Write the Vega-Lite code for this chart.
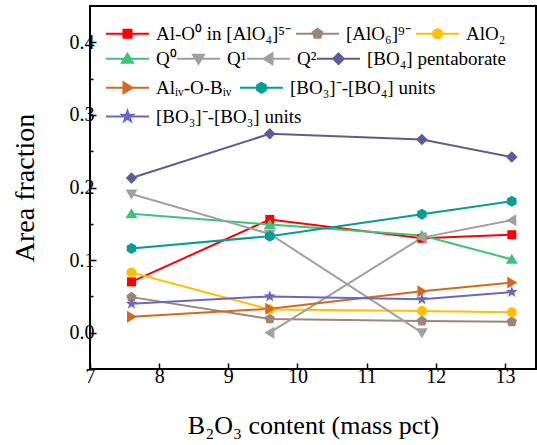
{
  "$schema": "https://vega.github.io/schema/vega-lite/v6.json",
  "width": 446,
  "height": 363,
  "autosize": "none",
  "padding": {"left": 90, "top": 6, "right": 1, "bottom": 76},
  "background": "white",
  "config": {
    "font": "Liberation Serif",
    "style": {"guide-label": {"font": "Liberation Serif"}, "guide-title": {"font": "Liberation Serif"}},
    "view": {"stroke": "black", "strokeWidth": 2},
    "legend": {"labelFont": "Liberation Serif"},
    "axis": {
      "grid": false,
      "domain": false,
      "tickColor": "black",
      "tickWidth": 1.5,
      "labelColor": "black",
      "labelFont": "Liberation Serif",
      "labelFontSize": 20,
      "titleFont": "Liberation Serif",
      "titleFontWeight": "normal",
      "titleColor": "black"
    }
  },
  "data": {
    "values": [
      {"b2o3": 7.6, "series": "Al-O⁰ in [AlO₄]⁵⁻", "frac": 0.070},
      {"b2o3": 9.6, "series": "Al-O⁰ in [AlO₄]⁵⁻", "frac": 0.156},
      {"b2o3": 11.8, "series": "Al-O⁰ in [AlO₄]⁵⁻", "frac": 0.130},
      {"b2o3": 13.1, "series": "Al-O⁰ in [AlO₄]⁵⁻", "frac": 0.135},
      {"b2o3": 7.6, "series": "[AlO₆]⁹⁻", "frac": 0.049},
      {"b2o3": 9.6, "series": "[AlO₆]⁹⁻", "frac": 0.019},
      {"b2o3": 11.8, "series": "[AlO₆]⁹⁻", "frac": 0.016},
      {"b2o3": 13.1, "series": "[AlO₆]⁹⁻", "frac": 0.015},
      {"b2o3": 7.6, "series": "AlO₂", "frac": 0.083},
      {"b2o3": 9.6, "series": "AlO₂", "frac": 0.032},
      {"b2o3": 11.8, "series": "AlO₂", "frac": 0.030},
      {"b2o3": 13.1, "series": "AlO₂", "frac": 0.028},
      {"b2o3": 7.6, "series": "Q⁰", "frac": 0.164},
      {"b2o3": 9.6, "series": "Q⁰", "frac": 0.149},
      {"b2o3": 11.8, "series": "Q⁰", "frac": 0.134},
      {"b2o3": 13.1, "series": "Q⁰", "frac": 0.101},
      {"b2o3": 7.6, "series": "Q¹", "frac": 0.191},
      {"b2o3": 9.6, "series": "Q¹", "frac": 0.136},
      {"b2o3": 11.8, "series": "Q¹", "frac": 0.0},
      {"b2o3": 9.6, "series": "Q²", "frac": 0.0},
      {"b2o3": 11.8, "series": "Q²", "frac": 0.131},
      {"b2o3": 13.1, "series": "Q²", "frac": 0.155},
      {"b2o3": 7.6, "series": "[BO₄] pentaborate", "frac": 0.213},
      {"b2o3": 9.6, "series": "[BO₄] pentaborate", "frac": 0.274},
      {"b2o3": 11.8, "series": "[BO₄] pentaborate", "frac": 0.266},
      {"b2o3": 13.1, "series": "[BO₄] pentaborate", "frac": 0.242},
      {"b2o3": 7.6, "series": "Alᵢᵥ-O-Bᵢᵥ", "frac": 0.022},
      {"b2o3": 9.6, "series": "Alᵢᵥ-O-Bᵢᵥ", "frac": 0.033},
      {"b2o3": 11.8, "series": "Alᵢᵥ-O-Bᵢᵥ", "frac": 0.057},
      {"b2o3": 13.1, "series": "Alᵢᵥ-O-Bᵢᵥ", "frac": 0.069},
      {"b2o3": 7.6, "series": "[BO₃]⁻-[BO₄] units", "frac": 0.116},
      {"b2o3": 9.6, "series": "[BO₃]⁻-[BO₄] units", "frac": 0.133},
      {"b2o3": 11.8, "series": "[BO₃]⁻-[BO₄] units", "frac": 0.163},
      {"b2o3": 13.1, "series": "[BO₃]⁻-[BO₄] units", "frac": 0.181},
      {"b2o3": 7.6, "series": "[BO₃]⁻-[BO₃] units", "frac": 0.040},
      {"b2o3": 9.6, "series": "[BO₃]⁻-[BO₃] units", "frac": 0.050},
      {"b2o3": 11.8, "series": "[BO₃]⁻-[BO₃] units", "frac": 0.046},
      {"b2o3": 13.1, "series": "[BO₃]⁻-[BO₃] units", "frac": 0.056}
    ]
  },
  "encoding": {
    "x": {
      "field": "b2o3",
      "type": "quantitative",
      "scale": {"domain": [7, 13.45], "nice": false, "zero": false},
      "axis": {
        "title": "B₂O₃ content (mass pct)",
        "titleFont": "Liberation Serif",
        "titleFontSize": 26,
        "titlePadding": 26,
        "format": "d",
        "labelFont": "Liberation Serif",
        "values": [7, 7.5, 8, 8.5, 9, 9.5, 10, 10.5, 11, 11.5, 12, 12.5, 13],
        "labelExpr": "datum.value % 1 === 0 ? datum.label : ''",
        "tickSize": {"condition": {"test": "datum.value % 1 === 0", "value": -6}, "value": -3},
        "labelPadding": 3,
        "labelFlush": false,
        "labelOverlap": false
      }
    },
    "y": {
      "field": "frac",
      "type": "quantitative",
      "scale": {"domain": [-0.05, 0.45], "nice": false, "zero": false},
      "axis": {
        "title": "Area fraction",
        "titleFont": "Liberation Serif",
        "titleFontSize": 28,
        "titlePadding": 30,
        "format": ".1f",
        "labelFont": "Liberation Serif",
        "values": [0, 0.05, 0.1, 0.15, 0.2, 0.25, 0.3, 0.35, 0.4],
        "labelExpr": "abs(datum.value * 10 - round(datum.value * 10)) < 0.001 ? datum.label : ''",
        "tickSize": {"condition": {"test": "abs(datum.value * 10 - round(datum.value * 10)) < 0.001", "value": -6}, "value": -3},
        "labelPadding": 2,
        "labelFlush": false,
        "labelOverlap": false
      }
    }
  },
  "layer": [
    {
      "mark": {"type": "line", "strokeWidth": 2},
      "encoding": {
        "color": {
          "field": "series", "type": "nominal", "legend": null,
          "scale": {
            "domain": ["Al-O⁰ in [AlO₄]⁵⁻", "[AlO₆]⁹⁻", "AlO₂", "Q⁰", "Q¹", "Q²", "[BO₄] pentaborate", "Alᵢᵥ-O-Bᵢᵥ", "[BO₃]⁻-[BO₄] units", "[BO₃]⁻-[BO₃] units"],
            "range": ["#FF0000", "#9E857A", "#FFC000", "#3CC47C", "#A0A0A0", "#A0A0A0", "#5B5B9C", "#D2691E", "#009E96", "#6A66C6"]
          }
        }
      }
    },
    {
      "mark": {"type": "point", "filled": true, "size": 100, "opacity": 1},
      "encoding": {
        "color": {
          "field": "series", "type": "nominal", "legend": null,
          "scale": {
            "domain": ["Al-O⁰ in [AlO₄]⁵⁻", "[AlO₆]⁹⁻", "AlO₂", "Q⁰", "Q¹", "Q²", "[BO₄] pentaborate", "Alᵢᵥ-O-Bᵢᵥ", "[BO₃]⁻-[BO₄] units", "[BO₃]⁻-[BO₃] units"],
            "range": ["#FF0000", "#9E857A", "#FFC000", "#3CC47C", "#A0A0A0", "#A0A0A0", "#5B5B9C", "#D2691E", "#009E96", "#6A66C6"]
          }
        },
        "shape": {
          "field": "series", "type": "nominal", "legend": null,
          "scale": {
            "domain": ["Al-O⁰ in [AlO₄]⁵⁻", "[AlO₆]⁹⁻", "AlO₂", "Q⁰", "Q¹", "Q²", "[BO₄] pentaborate", "Alᵢᵥ-O-Bᵢᵥ", "[BO₃]⁻-[BO₄] units", "[BO₃]⁻-[BO₃] units"],
            "range": [
              "M-0.9,-0.9H0.9V0.9H-0.9Z",
              "M0,-1.1L1.046,-0.34L0.647,0.89L-0.647,0.89L-1.046,-0.34Z",
              "M1,0A1,1,0,1,1,-1,0A1,1,0,1,1,1,0Z",
              "M0,-1.1L1.2,0.9L-1.2,0.9Z",
              "M0,1.1L1.2,-0.9L-1.2,-0.9Z",
              "M-1.1,0L0.9,-1.2L0.9,1.2Z",
              "M0,-1.15L1.15,0L0,1.15L-1.15,0Z",
              "M1.1,0L-0.9,-1.2L-0.9,1.2Z",
              "M0,-1.1L0.953,-0.55L0.953,0.55L0,1.1L-0.953,0.55L-0.953,-0.55Z",
              "M0,-1.25L0.294,-0.405L1.189,-0.386L0.476,0.155L0.735,1.011L0,0.5L-0.735,1.011L-0.476,0.155L-1.189,-0.386L-0.294,-0.405Z"
            ]
          }
        }
      }
    },
    {
      "transform": [{"filter": {"field": "series", "oneOf": ["Al-O⁰ in [AlO₄]⁵⁻", "[AlO₆]⁹⁻", "AlO₂"]}}],
      "mark": {"type": "point", "opacity": 0, "size": 100},
      "encoding": {
        "fill": {"field": "series", "type": "nominal",
          "scale": {"domain": ["Al-O⁰ in [AlO₄]⁵⁻", "[AlO₆]⁹⁻", "AlO₂"], "range": ["#FF0000", "#9E857A", "#FFC000"]},
          "legend": {"title": null, "orient": "none", "legendX": 25, "legendY": 15, "direction": "horizontal", "columns": 3, "symbolSize": 100, "symbolStrokeWidth": 2, "symbolOpacity": 1, "labelFont": "Liberation Serif", "labelFontSize": 19, "labelColor": "black", "labelOffset": 19, "columnPadding": 1, "padding": 3}},
        "stroke": {"field": "series", "type": "nominal",
          "scale": {"domain": ["Al-O⁰ in [AlO₄]⁵⁻", "[AlO₆]⁹⁻", "AlO₂"], "range": ["#FF0000", "#9E857A", "#FFC000"]},
          "legend": {"title": null, "orient": "none", "legendX": 25, "legendY": 15, "direction": "horizontal", "columns": 3, "symbolSize": 100, "symbolStrokeWidth": 2, "symbolOpacity": 1, "labelFont": "Liberation Serif", "labelFontSize": 19, "labelColor": "black", "labelOffset": 19, "columnPadding": 1, "padding": 3}},
        "shape": {"field": "series", "type": "nominal",
          "scale": {"domain": ["Al-O⁰ in [AlO₄]⁵⁻", "[AlO₆]⁹⁻", "AlO₂"], "range": [
            "M-4.3,0H4.3M-0.8,-0.8H0.8V0.8H-0.8Z",
            "M-4.3,0H4.3M0,-1L0.951,-0.309L0.588,0.809L-0.588,0.809L-0.951,-0.309Z",
            "M-4.3,0H4.3M0.9,0A0.9,0.9,0,1,1,-0.9,0A0.9,0.9,0,1,1,0.9,0Z"
          ]},
          "legend": {"title": null, "orient": "none", "legendX": 25, "legendY": 15, "direction": "horizontal", "columns": 3, "symbolSize": 100, "symbolStrokeWidth": 2, "symbolOpacity": 1, "labelFont": "Liberation Serif", "labelFontSize": 19, "labelColor": "black", "labelOffset": 19, "columnPadding": 1, "padding": 3}}
      }
    },
    {
      "transform": [{"filter": {"field": "series", "oneOf": ["Q⁰", "Q¹", "Q²", "[BO₄] pentaborate"]}}],
      "mark": {"type": "point", "opacity": 0, "size": 100},
      "encoding": {
        "fill": {"field": "series", "type": "nominal",
          "scale": {"domain": ["Q⁰", "Q¹", "Q²", "[BO₄] pentaborate"], "range": ["#3CC47C", "#A0A0A0", "#A0A0A0", "#5B5B9C"]},
          "legend": {"title": null, "orient": "none", "legendX": 25, "legendY": 40, "direction": "horizontal", "columns": 4, "symbolSize": 100, "symbolStrokeWidth": 2, "symbolOpacity": 1, "labelFont": "Liberation Serif", "labelFontSize": 19, "labelColor": "black", "labelOffset": 19, "columnPadding": -4, "padding": 3}},
        "stroke": {"field": "series", "type": "nominal",
          "scale": {"domain": ["Q⁰", "Q¹", "Q²", "[BO₄] pentaborate"], "range": ["#3CC47C", "#A0A0A0", "#A0A0A0", "#5B5B9C"]},
          "legend": {"title": null, "orient": "none", "legendX": 25, "legendY": 40, "direction": "horizontal", "columns": 4, "symbolSize": 100, "symbolStrokeWidth": 2, "symbolOpacity": 1, "labelFont": "Liberation Serif", "labelFontSize": 19, "labelColor": "black", "labelOffset": 19, "columnPadding": -4, "padding": 3}},
        "shape": {"field": "series", "type": "nominal",
          "scale": {"domain": ["Q⁰", "Q¹", "Q²", "[BO₄] pentaborate"], "range": [
            "M-4.3,0H4.3M0,-1L1.1,0.8L-1.1,0.8Z",
            "M-4.3,0H4.3M0,1L1.1,-0.8L-1.1,-0.8Z",
            "M-4.3,0H4.3M-1,0L0.8,-1.1L0.8,1.1Z",
            "M-4.3,0H4.3M0,-1.05L1.05,0L0,1.05L-1.05,0Z"
          ]},
          "legend": {"title": null, "orient": "none", "legendX": 25, "legendY": 40, "direction": "horizontal", "columns": 4, "symbolSize": 100, "symbolStrokeWidth": 2, "symbolOpacity": 1, "labelFont": "Liberation Serif", "labelFontSize": 19, "labelColor": "black", "labelOffset": 19, "columnPadding": -4, "padding": 3}}
      }
    },
    {
      "transform": [{"filter": {"field": "series", "oneOf": ["Alᵢᵥ-O-Bᵢᵥ", "[BO₃]⁻-[BO₄] units"]}}],
      "mark": {"type": "point", "opacity": 0, "size": 100},
      "encoding": {
        "fill": {"field": "series", "type": "nominal",
          "scale": {"domain": ["Alᵢᵥ-O-Bᵢᵥ", "[BO₃]⁻-[BO₄] units"], "range": ["#D2691E", "#009E96"]},
          "legend": {"title": null, "orient": "none", "legendX": 25, "legendY": 69, "direction": "horizontal", "columns": 2, "symbolSize": 100, "symbolStrokeWidth": 2, "symbolOpacity": 1, "labelFont": "Liberation Serif", "labelFontSize": 19, "labelColor": "black", "labelOffset": 19, "columnPadding": 4, "padding": 3}},
        "stroke": {"field": "series", "type": "nominal",
          "scale": {"domain": ["Alᵢᵥ-O-Bᵢᵥ", "[BO₃]⁻-[BO₄] units"], "range": ["#D2691E", "#009E96"]},
          "legend": {"title": null, "orient": "none", "legendX": 25, "legendY": 69, "direction": "horizontal", "columns": 2, "symbolSize": 100, "symbolStrokeWidth": 2, "symbolOpacity": 1, "labelFont": "Liberation Serif", "labelFontSize": 19, "labelColor": "black", "labelOffset": 19, "columnPadding": 4, "padding": 3}},
        "shape": {"field": "series", "type": "nominal",
          "scale": {"domain": ["Alᵢᵥ-O-Bᵢᵥ", "[BO₃]⁻-[BO₄] units"], "range": [
            "M-4.3,0H4.3M1,0L-0.8,-1.1L-0.8,1.1Z",
            "M-4.3,0H4.3M0,-1L0.866,-0.5L0.866,0.5L0,1L-0.866,0.5L-0.866,-0.5Z"
          ]},
          "legend": {"title": null, "orient": "none", "legendX": 25, "legendY": 69, "direction": "horizontal", "columns": 2, "symbolSize": 100, "symbolStrokeWidth": 2, "symbolOpacity": 1, "labelFont": "Liberation Serif", "labelFontSize": 19, "labelColor": "black", "labelOffset": 19, "columnPadding": 4, "padding": 3}}
      }
    },
    {
      "transform": [{"filter": {"field": "series", "oneOf": ["[BO₃]⁻-[BO₃] units"]}}],
      "mark": {"type": "point", "opacity": 0, "size": 100},
      "encoding": {
        "fill": {"field": "series", "type": "nominal",
          "scale": {"domain": ["[BO₃]⁻-[BO₃] units"], "range": ["#6A66C6"]},
          "legend": {"title": null, "orient": "none", "legendX": 25, "legendY": 98, "direction": "horizontal", "columns": 1, "symbolSize": 100, "symbolStrokeWidth": 2, "symbolOpacity": 1, "labelFont": "Liberation Serif", "labelFontSize": 19, "labelColor": "black", "labelOffset": 19, "columnPadding": 4, "padding": 3}},
        "stroke": {"field": "series", "type": "nominal",
          "scale": {"domain": ["[BO₃]⁻-[BO₃] units"], "range": ["#6A66C6"]},
          "legend": {"title": null, "orient": "none", "legendX": 25, "legendY": 98, "direction": "horizontal", "columns": 1, "symbolSize": 100, "symbolStrokeWidth": 2, "symbolOpacity": 1, "labelFont": "Liberation Serif", "labelFontSize": 19, "labelColor": "black", "labelOffset": 19, "columnPadding": 4, "padding": 3}},
        "shape": {"field": "series", "type": "nominal",
          "scale": {"domain": ["[BO₃]⁻-[BO₃] units"], "range": [
            "M-4.3,0H4.3M0,-1.15L0.27,-0.37L1.09,-0.35L0.44,0.14L0.68,0.93L0,0.46L-0.68,0.93L-0.44,0.14L-1.09,-0.35L-0.27,-0.37Z"
          ]},
          "legend": {"title": null, "orient": "none", "legendX": 25, "legendY": 98, "direction": "horizontal", "columns": 1, "symbolSize": 100, "symbolStrokeWidth": 2, "symbolOpacity": 1, "labelFont": "Liberation Serif", "labelFontSize": 19, "labelColor": "black", "labelOffset": 19, "columnPadding": 4, "padding": 3}}
      }
    }
  ],
  "resolve": {
    "scale": {"color": "independent", "shape": "independent", "fill": "independent", "stroke": "independent"},
    "legend": {"color": "independent", "shape": "independent", "fill": "independent", "stroke": "independent"}
  }
}
